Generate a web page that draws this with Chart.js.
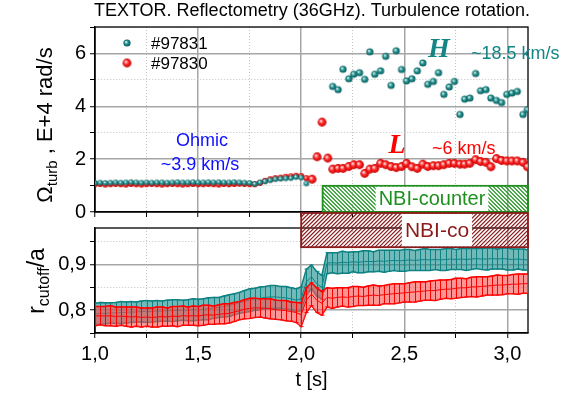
<!DOCTYPE html>
<html>
<head>
<meta charset="utf-8">
<script src="https://cdn.jsdelivr.net/npm/chart.js@4.4.0/dist/chart.umd.min.js"></script>
<style>
body { margin: 0; background: #fff; }
#wrap { position: relative; width: 564px; height: 399px; }
canvas { position: absolute; left: 0; }
#top { top: 0; }
#bot { top: 212px; }
</style>
</head>
<body>
<div id="wrap">
  <canvas id="top" width="564" height="228" style="width:564px;height:228px"></canvas>
  <canvas id="bot" width="564" height="187" style="width:564px;height:187px"></canvas>
</div>
<script>
// ---- top panel: Omega_turb (E+4 rad/s) ----
const tOhm = [1.000,1.025,1.050,1.075,1.100,1.125,1.150,1.175,1.200,1.225,1.250,1.275,1.300,1.325,1.350,1.375,1.400,1.425,1.450,1.475,1.500,1.525,1.550,1.575,1.600,1.625,1.650,1.675,1.700,1.725,1.750,1.775,1.800,1.825,1.850,1.875,1.900,1.925,1.950,1.975,2.000,2.025];
const omTealOhm = [1.10,1.11,1.10,1.11,1.12,1.11,1.12,1.13,1.12,1.11,1.12,1.11,1.12,1.12,1.11,1.12,1.13,1.12,1.12,1.13,1.12,1.12,1.13,1.12,1.13,1.12,1.12,1.13,1.12,1.11,1.10,1.06,1.12,1.16,1.20,1.24,1.26,1.27,1.28,1.32,1.30,1.08];
const omRedOhm = [1.05,1.06,1.04,1.05,1.06,1.05,1.04,1.06,1.05,1.04,1.05,1.06,1.05,1.04,1.05,1.06,1.05,1.04,1.05,1.06,1.05,1.05,1.06,1.05,1.04,1.06,1.05,1.06,1.07,1.06,1.05,1.05,1.10,1.18,1.24,1.28,1.30,1.33,1.35,1.37,1.36,1.28];
const tJump = [2.053,2.077,2.101,2.129];
const omRedJump = [1.24,2.09,3.40,2.04];
const tHL = [2.153,2.179,2.203,2.231,2.255,2.283,2.308,2.333,2.357,2.385,2.410,2.436,2.461,2.487,2.511,2.537,2.563,2.590,2.614,2.641,2.666,2.692,2.718,2.743,2.770,2.793,2.818,2.846,2.870,2.896,2.920,2.947,2.972,2.997,3.022,3.048,3.076,3.097];
const omTealH = [4.75,4.63,5.40,5.04,5.21,5.27,5.02,6.06,5.21,5.34,5.89,4.79,6.10,5.39,4.96,5.04,5.34,5.64,4.83,4.94,5.27,4.45,4.73,4.94,3.69,4.27,4.31,5.24,4.59,4.63,4.31,4.22,4.14,4.45,4.50,4.56,3.69,3.87];
const omRedL = [1.62,1.65,1.65,1.72,1.79,1.79,1.46,1.62,1.65,1.84,1.79,1.72,1.68,1.72,1.84,1.71,1.65,1.81,1.72,1.75,1.75,1.79,1.84,1.84,1.81,1.81,1.84,1.98,1.91,1.88,1.71,2.02,1.95,1.93,1.93,1.93,1.88,1.71];

// ---- bottom panel: r_cutoff/a with error bars ----
const tB = [1.000,1.025,1.050,1.075,1.100,1.125,1.150,1.175,1.200,1.225,1.250,1.275,1.300,1.325,1.350,1.375,1.400,1.425,1.450,1.475,1.500,1.525,1.550,1.575,1.600,1.625,1.650,1.675,1.700,1.725,1.750,1.775,1.800,1.825,1.850,1.875,1.900,1.925,1.950,1.975,2.000,2.025,2.050,2.075,2.100,2.125,2.150,2.175,2.200,2.225,2.250,2.275,2.300,2.325,2.350,2.375,2.400,2.425,2.450,2.475,2.500,2.525,2.550,2.575,2.600,2.625,2.650,2.675,2.700,2.725,2.750,2.775,2.800,2.825,2.850,2.875,2.900,2.925,2.950,2.975,3.000,3.025,3.050,3.075,3.100];
const rTeal = [0.792,0.793,0.793,0.794,0.794,0.795,0.795,0.796,0.796,0.797,0.797,0.797,0.798,0.798,0.799,0.799,0.800,0.800,0.800,0.801,0.801,
  0.802,0.803,0.805,0.806,0.808,0.810,0.813,0.816,0.819,0.822,0.824,0.826,0.828,0.829,0.829,0.828,0.827,0.825,0.822,
  0.825,0.862,0.873,0.858,0.850,
  0.903,0.904,0.903,0.905,0.904,0.906,0.905,0.906,0.907,0.906,0.908,0.907,0.908,0.909,0.908,0.909,0.910,0.909,0.910,0.911,
  0.910,0.911,0.910,0.911,0.912,0.911,0.912,0.911,0.912,0.913,0.912,0.912,0.913,0.912,0.913,0.912,0.911,0.912,0.911,0.910];
const eTeal = [0.023,0.024,0.023,0.022,0.023,0.024,0.023,0.023,0.022,0.023,0.024,0.023,0.023,0.022,0.023,0.024,0.023,0.022,0.023,0.024,
  0.023,0.023,0.024,0.023,0.022,0.023,0.024,0.023,0.023,0.024,0.025,0.024,0.025,0.024,0.025,0.025,0.024,0.025,0.024,0.025,
  0.026,0.028,0.026,0.027,0.026,
  0.023,0.022,0.023,0.024,0.023,0.022,0.023,0.024,0.023,0.022,0.023,0.024,0.023,0.022,0.023,0.024,0.023,0.022,0.023,0.024,
  0.023,0.022,0.023,0.024,0.023,0.022,0.023,0.024,0.023,0.022,0.023,0.024,0.023,0.022,0.023,0.024,0.023,0.022,0.023,0.022];
const rRed = [0.787,0.788,0.787,0.788,0.786,0.787,0.786,0.785,0.786,0.784,0.785,0.784,0.785,0.786,0.785,0.787,0.786,0.788,0.787,0.788,0.787,
  0.789,0.790,0.789,0.791,0.792,0.793,0.796,0.799,0.802,0.804,0.805,0.805,0.804,0.803,0.801,0.800,0.799,0.797,0.795,
  0.790,0.822,0.835,0.822,0.815,
  0.828,0.826,0.828,0.829,0.828,0.830,0.831,0.830,0.832,0.833,0.832,0.834,0.835,0.836,0.837,0.838,0.839,0.840,0.841,0.842,
  0.843,0.843,0.845,0.846,0.846,0.848,0.849,0.849,0.851,0.851,0.852,0.853,0.854,0.855,0.855,0.856,0.857,0.857,0.858,0.858];
const eRed = [0.021,0.020,0.021,0.022,0.021,0.020,0.021,0.022,0.021,0.021,0.020,0.021,0.022,0.021,0.020,0.021,0.022,0.021,0.020,0.021,
  0.021,0.022,0.021,0.020,0.021,0.022,0.021,0.021,0.020,0.021,0.022,0.021,0.020,0.021,0.022,0.021,0.021,0.022,0.021,0.022,
  0.026,0.027,0.025,0.027,0.026,
  0.021,0.022,0.021,0.020,0.021,0.022,0.021,0.020,0.021,0.022,0.021,0.020,0.021,0.022,0.021,0.020,0.021,0.022,0.021,0.020,
  0.021,0.022,0.021,0.020,0.021,0.022,0.021,0.020,0.021,0.022,0.021,0.020,0.021,0.022,0.021,0.020,0.021,0.022,0.021,0.021];

// ticks
const xTicks = [1.0,1.25,1.5,1.75,2.0,2.25,2.5,2.75,3.0];
const xLabels = [1.0,1.5,2.0,2.5,3.0];
const yTopTicks = [0,1,2,3,4,5,6,7];
const yTopLabels = [0,2,4,6];
const yBotTicks = [0.75,0.8,0.85,0.9,0.95];
const yBotLabels = [0.8,0.9];

const TEAL = '#138585';
const RED = '#ff0000';
Chart.defaults.font.family = 'Liberation Sans, Arial, sans-serif';
Chart.defaults.color = '#000';

function has(arr, v) { return arr.some(a => Math.abs(a - v) < 1e-6); }
function pts(xs, ys) { return xs.map((x, i) => ({x: x, y: ys[i]})); }
function comma(v, dec) { return v.toFixed(dec).replace('.', ','); }

function ball(r, light, mid, dark) {
    const c = document.createElement('canvas');
    const s = Math.ceil(r * 2 + 2);
    c.width = c.height = s;
    const g = c.getContext('2d');
    const grad = g.createRadialGradient(s/2 - r*0.3, s/2 - r*0.3, r*0.1, s/2, s/2, r);
    grad.addColorStop(0, light);
    grad.addColorStop(0.45, mid);
    grad.addColorStop(1, dark);
    g.fillStyle = grad;
    g.beginPath();
    g.arc(s/2, s/2, r, 0, Math.PI * 2);
    g.fill();
    return c;
}
const tealSmall = ball(2.8, '#e8f6f6', '#2a9a9a', '#0b5f5f');
const tealBig = ball(3.6, '#d6efef', '#22928f', '#085858');
const redSmall = ball(3.0, '#ffd8d8', '#ff2020', '#c00000');
const redBig = ball(4.4, '#ffe0e0', '#ff2a2a', '#c80000');

function gridFor(major) {
    return {
        color: c => (c.tick && has(major, c.tick.value)) ? '#a6a6a6' : '#c2c2c2',
        lineWidth: c => (c.tick && has(major, c.tick.value)) ? 1.5 : 1,
        tickColor: '#000',
        tickLength: 5,
        tickWidth: 1
    };
}
function borderFor(major) {
    return {
        color: '#000',
        width: 1.3,
        dash: c => (c.tick && !has(major, c.tick.value)) ? [1, 2] : []
    };
}

const frame = {
    id: 'frame',
    beforeDatasetsDraw(chart) {
        const {ctx, chartArea: a} = chart;
        ctx.save();
        ctx.strokeStyle = '#000';
        ctx.lineWidth = 1.3;
        ctx.strokeRect(a.left, a.top, a.right - a.left, a.bottom - a.top);
        ctx.restore();
    }
};

function hatchBox(ctx, x0, y0, x1, y1, color, dir) {
    ctx.save();
    ctx.beginPath();
    ctx.rect(x0, y0, x1 - x0, y1 - y0);
    ctx.clip();
    ctx.strokeStyle = color;
    ctx.lineWidth = 1.2;
    const h = y1 - y0;
    ctx.beginPath();
    for (let k = -h; k < x1 - x0 + h; k += 4) {
        if (dir > 0) { ctx.moveTo(x0 + k, y1); ctx.lineTo(x0 + k + h, y0); }
        else { ctx.moveTo(x0 + k, y0); ctx.lineTo(x0 + k + h, y1); }
    }
    ctx.stroke();
    ctx.restore();
    ctx.save();
    ctx.strokeStyle = color;
    ctx.lineWidth = 1.8;
    ctx.strokeRect(x0, y0, x1 - x0, y1 - y0);
    ctx.restore();
}
function labelBox(ctx, text, cx, y0, y1, color, size) {
    ctx.save();
    ctx.font = size + 'px Liberation Sans, Arial';
    const w = ctx.measureText(text).width + 6;
    ctx.fillStyle = '#fff';
    ctx.fillRect(cx - w/2, y0 + 1, w, y1 - y0 - 2);
    ctx.fillStyle = color;
    ctx.textAlign = 'center';
    ctx.textBaseline = 'middle';
    ctx.fillText(text, cx, (y0 + y1) / 2 + 1);
    ctx.restore();
}

// rotated axis title with a subscript
function rotTitle(ctx, parts, baseX, cy, size, subSize) {
    ctx.save();
    ctx.translate(baseX, cy);
    ctx.rotate(-Math.PI / 2);
    let total = 0;
    parts.forEach(p => {
        ctx.font = (p[1] ? subSize : size) + 'px Liberation Sans, Arial';
        total += ctx.measureText(p[0]).width;
    });
    let x = -total / 2;
    ctx.fillStyle = '#000';
    ctx.textBaseline = 'alphabetic';
    parts.forEach(p => {
        ctx.font = (p[1] ? subSize : size) + 'px Liberation Sans, Arial';
        ctx.fillText(p[0], x, p[1] ? 5 : 0);
        x += ctx.measureText(p[0]).width;
    });
    ctx.restore();
}

const topDecor = {
    id: 'topDecor',
    afterDraw(chart) {
        const ctx = chart.ctx;
        const xs = chart.scales.x, ys = chart.scales.y;
        ctx.save();
        // title
        ctx.font = '18px Liberation Sans, Arial';
        ctx.fillStyle = '#000';
        ctx.textAlign = 'center';
        ctx.textBaseline = 'middle';
        ctx.fillText('TEXTOR. Reflectometry (36GHz). Turbulence rotation.', 312, 11);
        // legend
        ctx.drawImage(tealBig, 127 - tealBig.width/2, 43 - tealBig.height/2);
        ctx.drawImage(redBig, 127 - redBig.width/2, 63 - redBig.height/2);
        ctx.font = '17px Liberation Sans, Arial';
        ctx.textAlign = 'left';
        ctx.fillText('#97831', 151, 44);
        ctx.fillText('#97830', 151, 64);
        // annotations
        ctx.textAlign = 'center';
        ctx.font = '18px Liberation Sans, Arial';
        ctx.fillStyle = '#1010ff';
        ctx.fillText('Ohmic', 202, 141);
        ctx.fillText('~3.9 km/s', 200, 165);
        ctx.fillStyle = TEAL;
        ctx.font = 'italic bold 28px Liberation Serif, Times New Roman';
        ctx.fillText('H', 439, 50);
        ctx.font = '18px Liberation Sans, Arial';
        ctx.textAlign = 'left';
        ctx.fillText('~18.5 km/s', 471, 54);
        ctx.fillStyle = RED;
        ctx.textAlign = 'center';
        ctx.font = 'italic bold 28px Liberation Serif, Times New Roman';
        ctx.fillText('L', 397, 146);
        ctx.font = '18px Liberation Sans, Arial';
        ctx.textAlign = 'left';
        ctx.fillText('~6 km/s', 432, 149);
        ctx.restore();
        // NBI-counter box
        const x0 = xs.getPixelForValue(2.104), x1 = xs.getPixelForValue(3.1);
        const y0 = ys.getPixelForValue(0.99), y1 = ys.getPixelForValue(0);
        hatchBox(ctx, x0, y0, x1, y1, '#1e901e', -1);
        labelBox(ctx, 'NBI-counter', 432, y0, y1, '#1e901e', 20);
        rotTitle(ctx, [['\u03A9', false], ['turb', true], [' , E+4 rad/s', false]], 52, 125, 22, 15);
    }
};

const botDecor = {
    id: 'botDecor',
    afterDatasetDraw(chart, args) {
        const ds = chart.data.datasets[args.index];
        if (!ds.errOf) return;
        const src = ds.errOf;
        const ctx = chart.ctx;
        const xs = chart.scales.x, ys = chart.scales.y;
        const a = chart.chartArea;
        ctx.save();
        ctx.beginPath();
        ctx.rect(a.left, a.top, a.right - a.left, a.bottom - a.top);
        ctx.clip();
        ctx.strokeStyle = src.color;
        ctx.lineWidth = 1;
        ctx.beginPath();
        src.t.forEach((t, i) => {
            const x = Math.round(xs.getPixelForValue(t)) + 0.5;
            const yu = ys.getPixelForValue(src.r[i] + src.e[i]);
            const yl = ys.getPixelForValue(src.r[i] - src.e[i]);
            ctx.moveTo(x, yu); ctx.lineTo(x, yl);
            ctx.moveTo(x - 2, yu); ctx.lineTo(x + 2, yu);
            ctx.moveTo(x - 2, yl); ctx.lineTo(x + 2, yl);
        });
        ctx.stroke();
        ctx.restore();
    },
    afterDraw(chart) {
        const ctx = chart.ctx;
        const xs = chart.scales.x, ys = chart.scales.y;
        const x0 = xs.getPixelForValue(2.0), x1 = xs.getPixelForValue(3.1);
        const y0 = 1, y1 = ys.getPixelForValue(0.938);
        hatchBox(ctx, x0, y0, x1, y1, '#8b1a1a', 1);
        labelBox(ctx, 'NBI-co', 437, y0, y1, '#8b1a1a', 21);
        rotTitle(ctx, [['r', false], ['cutoff', true], ['/a', false]], 44, 69, 23, 16);
    }
};

new Chart(document.getElementById('top'), {
    type: 'scatter',
    data: {
        datasets: [
            {
                label: '#97831',
                data: pts(tOhm, omTealOhm).concat(pts(tHL, omTealH)),
                pointStyle: c => (c.raw && c.raw.x < 2.1) ? tealSmall : tealBig,
                pointRadius: 3
            },
            {
                label: '#97830',
                data: pts(tOhm, omRedOhm).concat(pts(tJump, omRedJump), pts(tHL, omRedL)),
                pointStyle: c => (c.raw && c.raw.x < 2.04) ? redSmall : redBig,
                pointRadius: 4
            }
        ]
    },
    options: {
        responsive: false,
        animation: false,
        layout: { padding: { left: 0, right: 36, top: 27, bottom: 0 } },
        plugins: { legend: { display: false }, tooltip: { enabled: false } },
        scales: {
            x: {
                type: 'linear', min: 1, max: 3.1,
                afterBuildTicks: s => { s.ticks = xTicks.map(v => ({value: v})); },
                ticks: { display: false },
                grid: gridFor(xLabels),
                border: borderFor(xLabels),
                afterFit: s => { s.height = 5; }
            },
            y: {
                min: 0, max: 7,
                afterBuildTicks: s => { s.ticks = yTopTicks.map(v => ({value: v})); },
                ticks: {
                    font: { size: 20 }, color: '#000', padding: 4, autoSkip: false,
                    callback: v => has(yTopLabels, v) ? String(v) : ''
                },
                grid: gridFor(yTopLabels),
                border: borderFor(yTopLabels),
                afterFit: s => { s.width = 95; }
            }
        }
    },
    plugins: [frame, topDecor]
});

function band(t, r, e, color, fillColor) {
    return [
        { data: pts(t, r), borderColor: color, borderWidth: 1, pointRadius: 0, fill: false },
        { data: t.map((x, i) => ({x: x, y: r[i] + e[i]})), borderColor: color, borderWidth: 1.5, pointRadius: 0,
          fill: '+1', backgroundColor: fillColor, errOf: {t: t, r: r, e: e, color: color} },
        { data: t.map((x, i) => ({x: x, y: r[i] - e[i]})), borderColor: color, borderWidth: 1.5, pointRadius: 0, fill: false }
    ];
}

new Chart(document.getElementById('bot'), {
    type: 'line',
    data: {
        datasets: band(tB, rRed, eRed, RED, 'rgba(255,80,80,0.6)')
            .concat(band(tB, rTeal, eTeal, '#0f8282', 'rgba(20,140,140,0.6)'))
    },
    options: {
        responsive: false,
        animation: false,
        layout: { padding: { left: 0, right: 36, top: 9, bottom: 0 } },
        plugins: { legend: { display: false }, tooltip: { enabled: false } },
        scales: {
            x: {
                type: 'linear', min: 1, max: 3.1,
                afterBuildTicks: s => { s.ticks = xTicks.map(v => ({value: v})); },
                ticks: {
                    font: { size: 20 }, color: '#000', padding: 4, maxRotation: 0, autoSkip: false,
                    callback: v => has(xLabels, v) ? comma(v, 1) : ''
                },
                title: { display: true, text: 't [s]', font: { size: 20 }, color: '#000', padding: { top: 0, bottom: 7 } },
                grid: gridFor(xLabels),
                border: borderFor(xLabels),
                afterFit: s => { s.height = 66; }
            },
            y: {
                min: 0.75, max: 0.98,
                afterBuildTicks: s => { s.ticks = yBotTicks.map(v => ({value: v})); },
                ticks: {
                    font: { size: 20 }, color: '#000', padding: 4, autoSkip: false,
                    callback: v => has(yBotLabels, v) ? comma(v, 1) : ''
                },
                grid: gridFor(yBotLabels),
                border: borderFor(yBotLabels),
                afterFit: s => { s.width = 95; }
            }
        }
    },
    plugins: [frame, botDecor]
});
</script>
</body>
</html>
